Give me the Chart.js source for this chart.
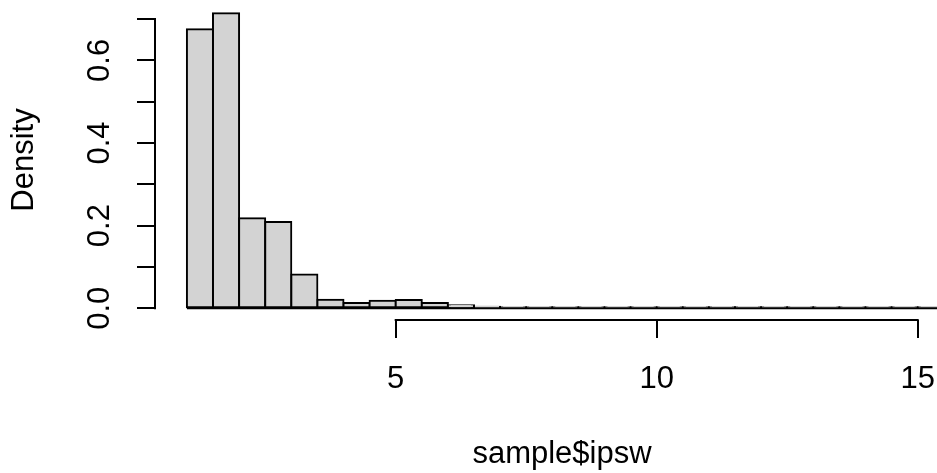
<!DOCTYPE html>
<html>
<head>
<meta charset="utf-8">
<script src="https://cdn.jsdelivr.net/npm/chart.js@4/dist/chart.umd.min.js"></script>
<style>
html,body{margin:0;padding:0;background:#ffffff;overflow:hidden;}
#c{display:block;}
</style>
</head>
<body>
<canvas id="c" width="969" height="473" style="width:969px;height:473px"></canvas>
<script>
// ---- data ----
const binStarts = [1.0, 1.5, 2.0, 2.5, 3.0, 3.5, 4.0, 4.5, 5.0, 5.5, 6.0, 6.5, 7.0, 7.5, 8.0, 8.5,
                   9.0, 9.5, 10.0, 10.5, 11.0, 11.5, 12.0, 12.5, 13.0, 13.5, 14.0, 14.5, 15.0, 15.5, 16.0];
const densities = [0.675, 0.714, 0.218, 0.209, 0.082, 0.021, 0.013, 0.018, 0.020, 0.013, 0.0075, 0.004,
                   0.002, 0.0015, 0.001, 0.001, 0.001, 0.001, 0.0015, 0.0015, 0.001, 0.001, 0.001, 0.001,
                   0.001, 0.001, 0.001, 0.001, 0.001, 0.001, 0.001];
const binWidth = 0.5;
const xTicks = [5, 10, 15];
const xTickLabels = ['5', '10', '15'];
const yTicks = [0, 0.1, 0.2, 0.3, 0.4, 0.5, 0.6, 0.7];
const yTickLabels = ['0.0', '', '0.2', '', '0.4', '', '0.6', ''];
const xTitle = 'sample$ipsw';
const yTitle = 'Density';

const FONT = {family: '"Liberation Sans", Arial, Helvetica, sans-serif', size: 31, lineHeight: 1.2};
const LW = 2;

const points = binStarts.map((s, i) => ({x: s + binWidth / 2, y: densities[i]}));

const rAxes = {
  id: 'rAxes',
  afterDatasetsDraw(chart) {
    const {ctx, scales: {x, y}} = chart;
    ctx.save();
    ctx.strokeStyle = '#000';
    ctx.lineWidth = LW;
    ctx.lineCap = 'butt';
    // histogram baseline under the bars
    const y0 = y.getPixelForValue(0);
    ctx.beginPath();
    ctx.moveTo(x.getPixelForValue(binStarts[0]), y0);
    ctx.lineTo(x.getPixelForValue(binStarts[binStarts.length - 1] + binWidth), y0);
    ctx.stroke();
    // y axis line (first to last tick)
    const ax = chart.chartArea.left;
    ctx.beginPath();
    ctx.moveTo(ax, y.getPixelForValue(yTicks[0]) + LW / 2);
    ctx.lineTo(ax, y.getPixelForValue(yTicks[yTicks.length - 1]) - LW / 2);
    ctx.stroke();
    // x axis line (first to last tick)
    const ay = chart.chartArea.bottom;
    ctx.beginPath();
    ctx.moveTo(x.getPixelForValue(xTicks[0]) - LW / 2, ay);
    ctx.lineTo(x.getPixelForValue(xTicks[xTicks.length - 1]) + LW / 2, ay);
    ctx.stroke();
    ctx.restore();
  }
};

new Chart(document.getElementById('c'), {
  type: 'bar',
  data: {
    datasets: [{
      data: points,
      backgroundColor: '#d3d3d3',
      borderColor: '#000000',
      borderWidth: LW,
      borderSkipped: false,
      inflateAmount: LW / 2,
      barPercentage: 1.0,
      categoryPercentage: 1.0,
      grouped: false
    }]
  },
  options: {
    responsive: false,
    animation: false,
    devicePixelRatio: 1,
    layout: {padding: 0},
    plugins: {legend: {display: false}, tooltip: {enabled: false}},
    scales: {
      x: {
        type: 'linear',
        min: 0.389,
        max: 15.983,
        offset: false,
        afterBuildTicks: s => { s.ticks = xTicks.map(v => ({value: v})); },
        afterFit: s => { s.height = 153; s.paddingLeft = 0; s.paddingRight = 0; s.paddingTop = 0; s.paddingBottom = 0; },
        ticks: {
          color: '#000', font: FONT, padding: 22.7, maxRotation: 0, minRotation: 0, autoSkip: false,
          callback: (v, i) => xTickLabels[i]
        },
        grid: {offset: false, drawOnChartArea: false, drawTicks: true, tickLength: 18, color: '#000', lineWidth: LW},
        border: {display: false},
        title: {display: true, text: xTitle, color: '#000', font: FONT, padding: {top: 0, bottom: 0}}
      },
      y: {
        type: 'linear',
        min: -0.0283,
        max: 0.746,
        afterBuildTicks: s => { s.ticks = yTicks.map(v => ({value: v})); },
        afterFit: s => { s.width = 155; s.paddingLeft = 0; s.paddingRight = 0; s.paddingTop = 0; s.paddingBottom = 0; },
        ticks: {
          color: '#000', font: FONT, padding: 15, minRotation: 90, maxRotation: 90, crossAlign: 'center', autoSkip: false,
          callback: (v, i) => yTickLabels[i]
        },
        grid: {offset: false, drawOnChartArea: false, drawTicks: true, tickLength: 18, color: '#000', lineWidth: LW},
        border: {display: false},
        title: {display: true, text: yTitle, color: '#000', font: FONT, padding: {top: 5.4, bottom: 0}}
      }
    }
  },
  plugins: [rAxes]
});
</script>
</body>
</html>
